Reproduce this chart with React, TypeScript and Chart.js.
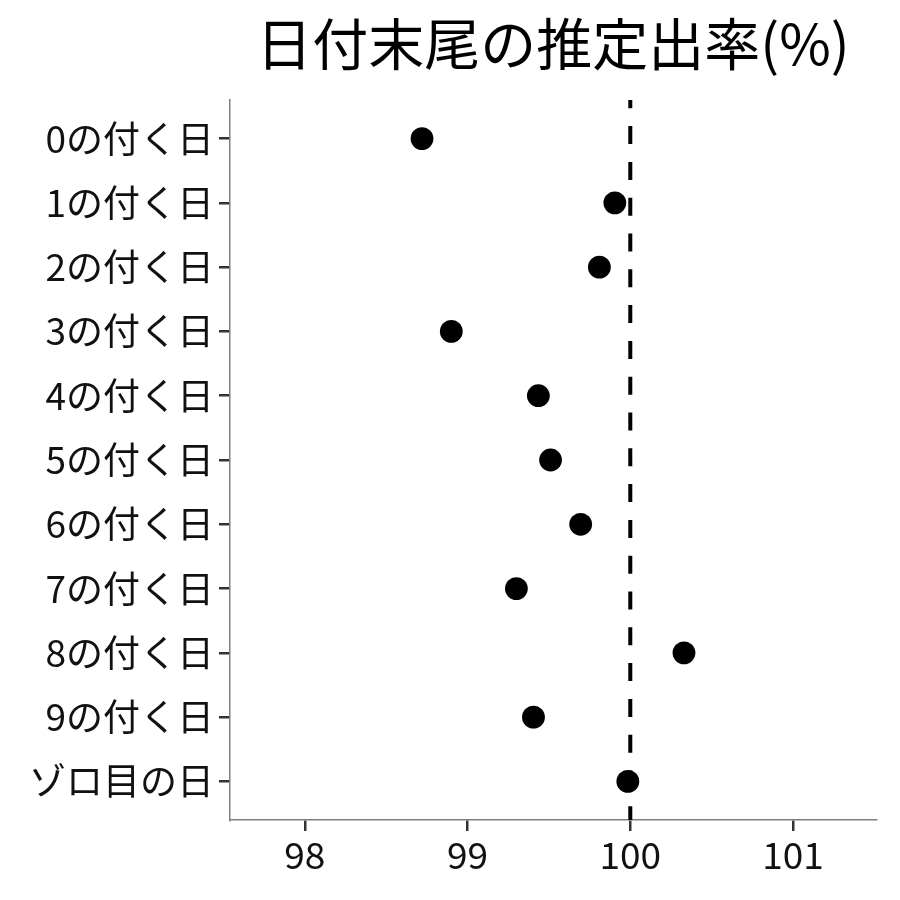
import React, { useEffect, useRef } from 'react';
import { Chart, registerables } from 'chart.js';

Chart.register(...registerables);

const titleText = '日付末尾の推定出率(%)';
const categories = [
  '0の付く日',
  '1の付く日',
  '2の付く日',
  '3の付く日',
  '4の付く日',
  '5の付く日',
  '6の付く日',
  '7の付く日',
  '8の付く日',
  '9の付く日',
  'ゾロ目の日',
];
const rates = [98.72, 99.905, 99.81, 98.9, 99.435, 99.51, 99.695, 99.3, 100.33, 99.405, 99.985];
const xTickValues = [98, 99, 100, 101];
const xMin = 97.54;
const xMax = 101.51;
const referenceRate = 100;

const FONT = "'Noto Sans CJK JP', 'Noto Sans', sans-serif";

export default function App() {
  const ref = useRef<HTMLCanvasElement | null>(null);

  useEffect(() => {
    if (!ref.current) return;
    const yMin = -0.6;
    const yMax = categories.length - 1 + 0.6;
    const chart = new Chart(ref.current, {
      type: 'scatter',
      data: {
        datasets: [
          {
            label: '推定出率',
            data: rates.map((v, i) => ({ x: v, y: i })),
            backgroundColor: '#000',
            borderWidth: 0,
            pointRadius: 11.4,
            pointHoverRadius: 11.4,
            order: 1,
          },
          {
            label: '100%',
            type: 'line',
            data: [
              { x: referenceRate, y: yMin },
              { x: referenceRate, y: yMax },
            ],
            showLine: true,
            borderColor: '#000',
            borderWidth: 4,
            borderDash: [18, 17.8],
            borderDashOffset: 9.7,
            pointRadius: 0,
            fill: false,
            order: 2,
          } as any,
        ],
      },
      options: {
        animation: false,
        responsive: false,
        maintainAspectRatio: false,
        layout: { padding: { top: 0, right: 24, bottom: 0, left: 0 } },
        plugins: {
          legend: { display: false },
          tooltip: { enabled: false },
          title: {
            display: true,
            text: titleText,
            fullSize: false,
            color: '#000',
            font: { family: FONT, size: 56, weight: 'normal', lineHeight: 1.2 },
            padding: { top: 10, bottom: 22.8 },
          },
        },
        scales: {
          x: {
            type: 'linear',
            min: xMin,
            max: xMax,
            afterBuildTicks: (scale: any) => {
              scale.ticks = xTickValues.map((v) => ({ value: v }));
            },
            afterFit: (scale: any) => {
              scale.height = 80;
            },
            grid: {
              display: true,
              drawOnChartArea: false,
              drawTicks: true,
              tickLength: 11,
              color: '#333',
              lineWidth: 2.5,
            },
            border: { display: true, color: '#808080', width: 1.5 },
            ticks: {
              color: '#111',
              padding: 2,
              font: { family: FONT, size: 37 },
              callback: (v: any) => String(v),
            },
          },
          y: {
            type: 'linear',
            reverse: true,
            min: yMin,
            max: yMax,
            afterBuildTicks: (scale: any) => {
              scale.ticks = categories.map((_, i) => ({ value: i }));
            },
            afterFit: (scale: any) => {
              scale.width = 230;
            },
            grid: {
              display: true,
              drawOnChartArea: false,
              drawTicks: true,
              tickLength: 11,
              color: '#333',
              lineWidth: 2.5,
            },
            border: { display: true, color: '#808080', width: 1.5 },
            ticks: {
              color: '#111',
              padding: 5,
              font: { family: FONT, size: 37 },
              callback: (v: any) => categories[Math.round(Number(v))] ?? '',
            },
          },
        },
      },
    });
    return () => chart.destroy();
  }, []);

  return (
    <div style={{ position: 'fixed', left: 0, top: 0, width: 900, height: 900, background: '#fff' }}>
      <canvas ref={ref} width={900} height={900} style={{ width: 900, height: 900, display: 'block' }} />
    </div>
  );
}
